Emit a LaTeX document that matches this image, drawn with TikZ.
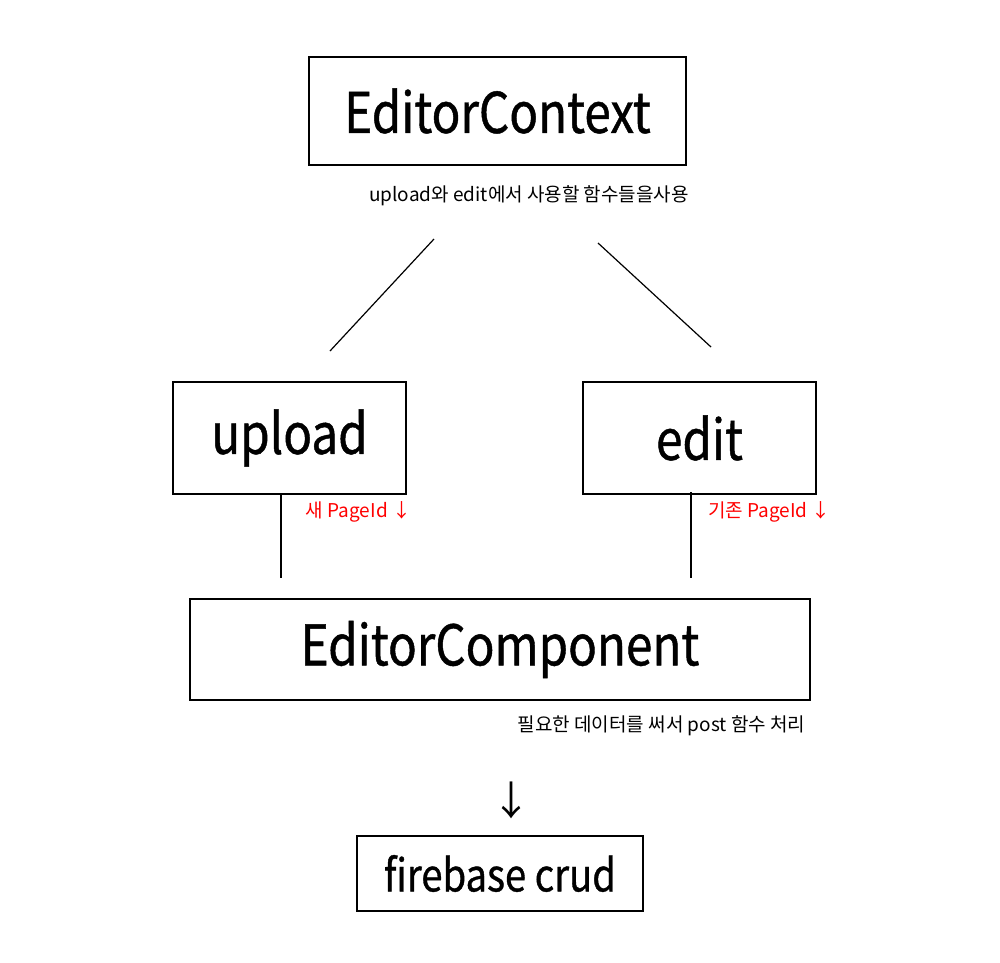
\documentclass[tikz,border=0pt]{standalone}
\usepackage{fontspec}
\setmainfont{Noto Sans CJK KR}
\newfontfamily\headfont{Noto Sans CJK KR}[FakeStretch=0.85, FakeBold=0.8]
\usetikzlibrary{positioning}

\tikzset{
  box/.style={draw, line width=1.2pt, inner sep=0pt, align=center},
  note/.style={inner sep=0pt, align=center, font=\fontsize{19}{22}\selectfont},
  link/.style={line width=1.2pt, -}
}

\begin{document}
\begin{tikzpicture}[x=1pt,y=-1pt]
\useasboundingbox (0,0) rectangle (1000,962);

\node[box, minimum width=377pt, minimum height=108pt] (ctx) at (497.5,111) {\headfont\fontsize{56}{60}\selectfont EditorContext};
\node[note] (ctxnote) at (529,196) {upload와 edit에서 사용할 함수들을사용};

\coordinate (ctxL) at (434,239);
\coordinate (upT) at (330,351);
\draw[link] (ctxL) -- (upT) ; % left branch
\coordinate (ctxR) at (598,243);
\coordinate (edT) at (711,347);
\draw[link] (ctxR) -- (edT) ; % right branch

\node[box, minimum width=233pt, minimum height=112pt] (upload) at (289.5,438) {\headfont\fontsize{56}{60}\selectfont upload};
\node[box, minimum width=233pt, minimum height=112pt] (edit) at (699.5,438) {\headfont\fontsize{56}{60}\selectfont edit};

\node[note, red] (newid) at (358.5,512) {새 PageId ↓};
\node[note, red] (oldid) at (769.5,512) {기존 PageId ↓};

\coordinate (upB) at (281,494);
\coordinate (cmpL) at (281,578);
\draw[link] (upB) -- (cmpL) ;
\coordinate (edB) at (691,492);
\coordinate (cmpR) at (691,578);
\draw[link] (edB) -- (cmpR) ;

\node[box, minimum width=620pt, minimum height=101pt] (cmp) at (500,649.5) {\headfont\fontsize{56}{60}\selectfont EditorComponent};
\node[note] (cmpnote) at (661.5,726) {필요한 데이터를 써서 post 함수 처리};

\node[note, font=\fontsize{40}{44}\selectfont] (down) at (511,800) {↓};

\node[box, minimum width=286pt, minimum height=75pt] (fb) at (500,873.5) {\headfont\fontsize{45}{50}\selectfont firebase crud};
\end{tikzpicture}
\end{document}
